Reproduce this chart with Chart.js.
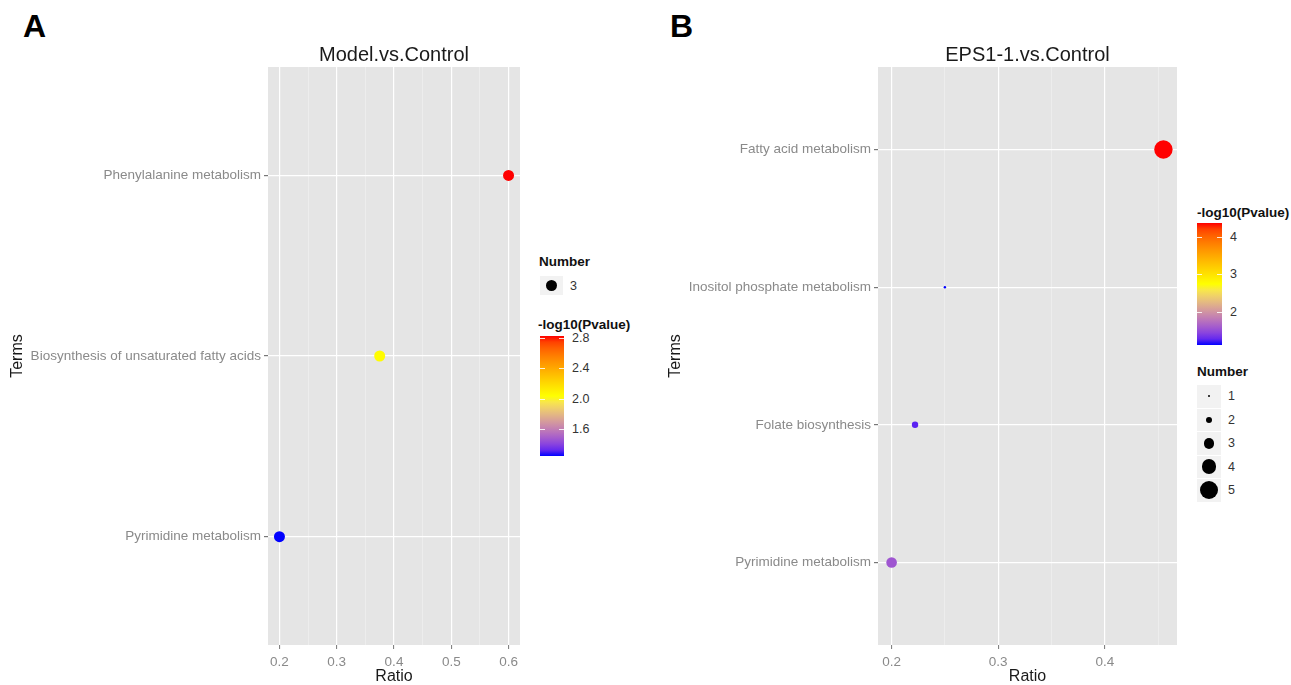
<!DOCTYPE html>
<html>
<head>
<meta charset="utf-8">
<script src="https://cdn.jsdelivr.net/npm/chart.js@4.4.1/dist/chart.umd.min.js"></script>
<style>
  html, body { margin: 0; padding: 0; background: #fff; }
  #page { position: relative; width: 1291px; height: 685px; overflow: hidden; font-family: "Liberation Sans", Arial, sans-serif; }
  .abs { position: absolute; }
  .txt { position: absolute; line-height: 1; white-space: nowrap; transform: translateY(-50%); }
  .tag { position: absolute; font-size: 32px; font-weight: bold; line-height: 32px; color: #000; }
  .ltitle { font-size: 13.5px; font-weight: bold; color: #111; }
  .llab { font-size: 12.5px; color: #333; }
  .key { position: absolute; background: #f2f2f2; }
  .dot { position: absolute; border-radius: 50%; background: #000; }
  .tickmark { position: absolute; height: 1px; background: rgba(255,255,255,0.85); }
</style>
</head>
<body>
<div id="page">
  <div class="tag" style="left:23px; top:10px;">A</div>
  <div class="tag" style="left:670px; top:10px;">B</div>
  <div class="abs" style="left:0; top:0;"><canvas id="chartA" width="530" height="685"></canvas></div>
  <div class="abs" style="left:660px; top:0;"><canvas id="chartB" width="530" height="685"></canvas></div>
  <div id="legendA"></div>
  <div id="legendB"></div>
</div>
<script>
// --- panel A: Model.vs.Control
const TERMS_A = ['Phenylalanine metabolism', 'Biosynthesis of unsaturated fatty acids', 'Pyrimidine metabolism'];
const RATIO_A = [0.6, 0.375, 0.2];
const LOGP_A = [2.83, 2.05, 1.24];
const COUNT_A = [3, 3, 3];
const XMAJOR_A = [0.2, 0.3, 0.4, 0.5, 0.6];
const XMINOR_A = [0.25, 0.35, 0.45, 0.55];
const CBREAKS_A = [1.6, 2.0, 2.4, 2.8];
const SIZEKEYS_A = [3];

// --- panel B: EPS1-1.vs.Control
const TERMS_B = ['Fatty acid metabolism', 'Inositol phosphate metabolism', 'Folate biosynthesis', 'Pyrimidine metabolism'];
const RATIO_B = [0.455, 0.25, 0.222, 0.2];
const LOGP_B = [4.37, 1.12, 1.25, 1.57];
const COUNT_B = [5, 1, 2, 3];
const XMAJOR_B = [0.2, 0.3, 0.4];
const XMINOR_B = [0.25, 0.35, 0.45];
const CBREAKS_B = [2, 3, 4];
const SIZEKEYS_B = [1, 2, 3, 4, 5];

// colour ramp blue -> yellow -> red, interpolated in CIELAB like ggplot
function toLab(hex) {
  const c = [1, 3, 5].map(i => parseInt(hex.substr(i, 2), 16) / 255)
    .map(v => v <= 0.04045 ? v / 12.92 : Math.pow((v + 0.055) / 1.055, 2.4));
  const X = (0.4124 * c[0] + 0.3576 * c[1] + 0.1805 * c[2]) / 0.95047;
  const Y = 0.2126 * c[0] + 0.7152 * c[1] + 0.0722 * c[2];
  const Z = (0.0193 * c[0] + 0.1192 * c[1] + 0.9505 * c[2]) / 1.08883;
  const f = t => t > 0.008856 ? Math.cbrt(t) : 7.787 * t + 16 / 116;
  return [116 * f(Y) - 16, 500 * (f(X) - f(Y)), 200 * (f(Y) - f(Z))];
}
function fromLab(L, a, b) {
  const fy = (L + 16) / 116, fx = a / 500 + fy, fz = fy - b / 200;
  const g = f => f * f * f > 0.008856 ? f * f * f : (f - 16 / 116) / 7.787;
  const X = g(fx) * 0.95047, Y = g(fy), Z = g(fz) * 1.08883;
  const lin = [3.2406 * X - 1.5372 * Y - 0.4986 * Z, -0.9689 * X + 1.8758 * Y + 0.0415 * Z, 0.0557 * X - 0.2040 * Y + 1.0570 * Z];
  const out = lin.map(v => v <= 0.0031308 ? 12.92 * v : 1.055 * Math.pow(v, 1 / 2.4) - 0.055)
    .map(v => Math.round(Math.min(1, Math.max(0, v)) * 255));
  return `rgb(${out[0]},${out[1]},${out[2]})`;
}
const RAMP = ['#0000FF', '#FFFF00', '#FF0000'].map(toLab);
function ramp(t) {
  t = Math.min(1, Math.max(0, t));
  const seg = t < 0.5 ? 0 : 1, u = (t - seg * 0.5) / 0.5;
  const p = RAMP[seg], q = RAMP[seg + 1];
  return fromLab(p[0] + (q[0] - p[0]) * u, p[1] + (q[1] - p[1]) * u, p[2] + (q[2] - p[2]) * u);
}

const radiusA = () => 5.5;
const radiusB = n => [0, 1.2, 3.2, 5.3, 7.3, 9.2][n];

function panel(id, cfg) {
  const n = cfg.terms.length;
  const lo = Math.min(...cfg.ratio), hi = Math.max(...cfg.ratio), pad = (hi - lo) * 0.05;
  const cmin = Math.min(...cfg.logp), cmax = Math.max(...cfg.logp);
  const xticks = cfg.major.concat(cfg.minor).sort((a, b) => a - b);
  const isMajor = v => cfg.major.some(m => Math.abs(m - v) < 1e-9);
  const tickFont = { family: '"Liberation Sans", Arial, sans-serif', size: 13.5 };
  const titleFont = { family: '"Liberation Sans", Arial, sans-serif', size: 16 };

  const background = {
    id: 'panelBg',
    beforeDraw(chart) {
      const { ctx, chartArea: a } = chart;
      ctx.save();
      ctx.fillStyle = '#e5e5e5';
      ctx.fillRect(a.left, a.top, a.right - a.left, a.bottom - a.top);
      ctx.restore();
    }
  };
  const heading = {
    id: 'panelTitle',
    afterDraw(chart) {
      const { ctx, chartArea: a } = chart;
      ctx.save();
      ctx.font = '20px "Liberation Sans", Arial, sans-serif';
      ctx.fillStyle = '#1a1a1a';
      ctx.textAlign = 'center';
      ctx.textBaseline = 'middle';
      ctx.fillText(cfg.title, (a.left + a.right) / 2, 55);
      ctx.restore();
    }
  };

  return new Chart(document.getElementById(id), {
    type: 'bubble',
    data: {
      datasets: [{
        data: cfg.terms.map((t, i) => ({ x: cfg.ratio[i], y: i, r: cfg.radius(cfg.count[i]) })),
        backgroundColor: cfg.logp.map(v => ramp((v - cmin) / (cmax - cmin))),
        borderWidth: 0,
        hoverBorderWidth: 0
      }]
    },
    options: {
      responsive: false,
      animation: false,
      events: [],
      layout: { padding: { top: 67, right: cfg.padRight, left: 0, bottom: 0 } },
      plugins: { legend: { display: false }, tooltip: { enabled: false } },
      scales: {
        x: {
          type: 'linear', min: lo - pad, max: hi + pad,
          afterBuildTicks: s => { s.ticks = xticks.map(v => ({ value: v })); },
          afterFit: s => { s.height = 40; },
          ticks: { autoSkip: false, maxRotation: 0, padding: 5, color: '#8a8a8a', font: tickFont,
            callback: v => isMajor(v) ? v.toFixed(1) : '' },
          grid: {
            color: c => isMajor(c.tick.value) ? '#ffffff' : '#f2f2f2',
            lineWidth: c => isMajor(c.tick.value) ? 1.2 : 0.6,
            tickColor: c => isMajor(c.tick.value) ? '#777' : 'rgba(0,0,0,0)',
            tickLength: 4, tickWidth: 1
          },
          border: { display: false },
          title: { display: true, text: 'Ratio', color: '#1a1a1a', font: titleFont, padding: { top: 0, bottom: -1 } }
        },
        y: {
          type: 'linear', reverse: true, min: -0.6, max: n - 0.4,
          afterBuildTicks: s => { s.ticks = cfg.terms.map((t, i) => ({ value: i })); },
          afterFit: s => { s.width = cfg.axisWidth; },
          ticks: { autoSkip: false, padding: 3, color: '#8a8a8a', font: tickFont,
            callback: v => cfg.terms[v] },
          grid: { color: '#ffffff', lineWidth: 1.2, tickColor: '#777', tickLength: 4 },
          border: { display: false },
          title: { display: true, text: 'Terms', color: '#1a1a1a', font: titleFont, padding: { top: cfg.titlePad, bottom: 0 } }
        }
      }
    },
    plugins: [background, heading]
  });
}

panel('chartA', { title: 'Model.vs.Control', terms: TERMS_A, ratio: RATIO_A, logp: LOGP_A, count: COUNT_A,
  major: XMAJOR_A, minor: XMINOR_A, radius: radiusA, axisWidth: 268, padRight: 10, titlePad: 8 });
panel('chartB', { title: 'EPS1-1.vs.Control', terms: TERMS_B, ratio: RATIO_B, logp: LOGP_B, count: COUNT_B,
  major: XMAJOR_B, minor: XMINOR_B, radius: radiusB, axisWidth: 218, padRight: 13, titlePad: 6 });

// --- legends (colour bar + size keys)
function text(host, x, y, str, cls) {
  const d = document.createElement('div');
  d.className = 'txt ' + cls;
  d.style.left = x + 'px';
  d.style.top = y + 'px';
  d.textContent = str;
  host.appendChild(d);
}
function colourBar(host, x, top, w, h, logp, breaks, digits) {
  const cmin = Math.min(...logp), cmax = Math.max(...logp);
  const stops = [];
  for (let i = 0; i <= 20; i++) stops.push(`${ramp(i / 20)} ${i * 5}%`);
  const bar = document.createElement('div');
  bar.className = 'abs';
  Object.assign(bar.style, { left: x + 'px', top: top + 'px', width: w + 'px', height: h + 'px',
    background: `linear-gradient(to top, ${stops.join(', ')})` });
  host.appendChild(bar);
  breaks.forEach(b => {
    const y = top + (cmax - b) / (cmax - cmin) * h;
    [x, x + w - 5].forEach(tx => {
      const m = document.createElement('div');
      m.className = 'tickmark';
      Object.assign(m.style, { left: tx + 'px', top: Math.round(y) + 'px', width: '5px' });
      host.appendChild(m);
    });
    text(host, x + w + 8, y, b.toFixed(digits), 'llab');
  });
}
function sizeKeys(host, x, top, w, h, keys, radius) {
  keys.forEach((k, i) => {
    const y0 = top + i * (h + 1);
    const box = document.createElement('div');
    box.className = 'key';
    Object.assign(box.style, { left: x + 'px', top: y0 + 'px', width: w + 'px', height: h + 'px' });
    host.appendChild(box);
    const r = radius(k);
    const d = document.createElement('div');
    d.className = 'dot';
    Object.assign(d.style, { left: (x + w / 2 - r) + 'px', top: (y0 + h / 2 - r) + 'px', width: 2 * r + 'px', height: 2 * r + 'px' });
    host.appendChild(d);
    text(host, x + w + 7, y0 + h / 2, String(k), 'llab');
  });
}

const legA = document.getElementById('legendA');
text(legA, 539, 262, 'Number', 'ltitle');
sizeKeys(legA, 540, 276, 23, 19, SIZEKEYS_A, radiusA);
text(legA, 538, 325, '-log10(Pvalue)', 'ltitle');
colourBar(legA, 540, 336, 24, 120, LOGP_A, CBREAKS_A, 1);

const legB = document.getElementById('legendB');
text(legB, 1197, 213, '-log10(Pvalue)', 'ltitle');
colourBar(legB, 1197, 223, 25, 122, LOGP_B, CBREAKS_B, 0);
text(legB, 1197, 372, 'Number', 'ltitle');
sizeKeys(legB, 1197, 385, 24, 22.5, SIZEKEYS_B, radiusB);
</script>
</body>
</html>
